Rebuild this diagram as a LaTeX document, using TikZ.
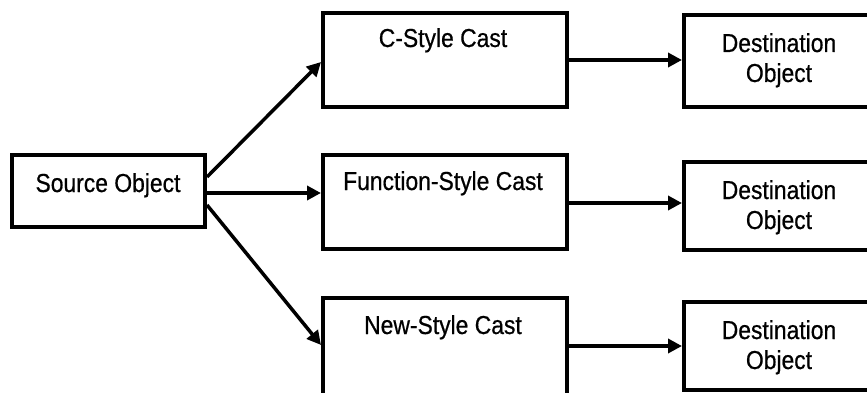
\documentclass[tikz,border=0pt]{standalone}
\usepackage{fontspec}
\setmainfont{Liberation Sans}[FakeStretch=0.88,FakeBold=0.6]
\usetikzlibrary{arrows.meta}
\tikzset{
  box/.style={draw=black,line width=4pt,inner sep=0pt,fill=white},
  lbl/.style={inner sep=0pt,anchor=base,font=\fontsize{26}{30}\selectfont},
  conn/.style={line width=3.5pt,-{Triangle[length=14pt,width=14pt]}},
}
\begin{document}
\begin{tikzpicture}[x=1pt,y=-1pt]
\useasboundingbox (0,0) rectangle (867,393);
\clip (0,0) rectangle (867,393);
% boxes
\node[box,minimum width=193pt,minimum height=72pt] (src) at (108.5,191) {};
\node[box,minimum width=244pt,minimum height=94pt] (cst) at (445,60) {};
\node[box,minimum width=244pt,minimum height=94pt] (fn) at (445,202) {};
\node[box,minimum width=244pt,minimum height=110pt] (nw) at (445,353) {};
\node[box,minimum width=200pt,minimum height=92pt] (d1) at (784,61) {};
\node[box,minimum width=200pt,minimum height=88pt] (d2) at (784,206) {};
\node[box,minimum width=200pt,minimum height=88pt] (d3) at (784,346) {};
% labels
\node[lbl] (srct) at (108,192) {Source Object};
\node[lbl] (cstt) at (443,47) {C-Style Cast};
\node[lbl] (fnt) at (443,190) {Function-Style Cast};
\node[lbl] (nwt) at (443,334) {New-Style Cast};
\node[lbl] (d1a) at (779,52) {Destination};
\node[lbl] (d1b) at (779,82) {Object};
\node[lbl] (d2a) at (779,199) {Destination};
\node[lbl] (d2b) at (779,229) {Object};
\node[lbl] (d3a) at (779,339) {Destination};
\node[lbl] (d3b) at (779,369) {Object};
% connectors
\draw[conn] ([yshift=14pt]src.east) -- ([yshift=-2pt]cst.west);
\draw[conn] ([yshift=-2pt]src.east) -- ([yshift=9pt]fn.west);
\draw[conn] ([yshift=-14pt]src.east) -- ([yshift=8pt]nw.west);
\draw[conn] (cst.east) -- (cst.east -| d1.west);
\draw[conn] ([yshift=-1pt]fn.east) -- ([yshift=-1pt]fn.east -| d2.west);
\draw[conn] ([yshift=7pt]nw.east) -- ([yshift=7pt]nw.east -| d3.west);
\end{tikzpicture}
\end{document}
